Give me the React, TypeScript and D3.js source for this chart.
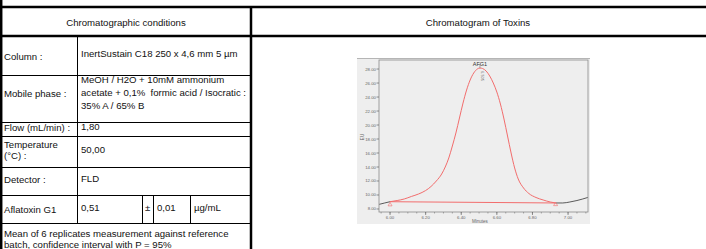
import * as d3 from 'd3'

// table content
const headerLeft = 'Chromatographic conditions'
const headerRight = 'Chromatogram of Toxins'
const rowLabels = [['Column :'], ['Mobile phase :'], ['Flow (mL/min) :'], ['Temperature', '(°C) :'], ['Detector :']]
const rowValues = [
  ['InertSustain C18 250 x 4,6 mm 5 µm'],
  ['MeOH / H2O + 10mM ammonium', 'acetate + 0,1%  formic acid / Isocratic :', '35% A / 65% B'],
  ['1,80'],
  ['50,00'],
  ['FLD'],
]
const resultCells = ['Aflatoxin G1', '0,51', '±', '0,01', 'µg/mL']
const footnote = ['Mean of 6 replicates measurement against reference', 'batch, confidence interval with P = 95%']

// chromatogram trace (minutes, EU)
const times = [5.94, 5.97, 6.0, 6.04, 6.08, 6.12, 6.16, 6.2, 6.23, 6.26, 6.29, 6.31, 6.33, 6.35, 6.37, 6.39, 6.41, 6.43, 6.45, 6.47, 6.49, 6.505, 6.52, 6.54, 6.56, 6.58, 6.6, 6.62, 6.64, 6.66, 6.68, 6.7, 6.72, 6.75, 6.78, 6.82, 6.86, 6.9, 6.93, 6.97, 7.01, 7.05, 7.11]
const signal = [8.67, 8.86, 9.04, 9.21, 9.43, 9.79, 10.14, 10.64, 11.21, 12.0, 13.0, 14.0, 15.29, 17.0, 18.86, 21.0, 23.14, 25.0, 26.43, 27.43, 28.0, 28.14, 28.07, 27.71, 27.0, 26.0, 24.71, 23.0, 20.86, 18.43, 16.0, 13.86, 12.29, 11.0, 10.21, 9.64, 9.29, 9.0, 8.86, 8.86, 9.0, 9.21, 9.64]
const peakName = 'AFG1'
const peakRT = '6.505'
const peakStart = 6.0
const peakEnd = 6.93
const yTicks = [8, 10, 12, 14, 16, 18, 20, 22, 24, 26, 28]
const xTicks = [6.0, 6.2, 6.4, 6.6, 6.8, 7.0]
const xMinor = d3.range(5.95, 7.11, 0.05)

const W = 706
const H = 249
const font = 'Liberation Sans, Arial, sans-serif'

const Chromatogram = () => {
  const x = d3.scaleLinear().domain([5.938, 7.112]).range([379, 588])
  const y = d3.scaleLinear().domain([7.57, 29.29]).range([212, 60])
  const pts = times.map((t, i) => [t, signal[i]] as [number, number])
  const line = d3.line<[number, number]>().x(d => x(d[0])).y(d => y(d[1])).curve(d3.curveMonotoneX)
  const inPeak = pts.filter(d => d[0] >= peakStart - 1e-9 && d[0] <= peakEnd + 1e-9)
  const before = pts.filter(d => d[0] <= peakStart + 1e-9)
  const after = pts.filter(d => d[0] >= peakEnd - 1e-9)
  const sIdx = times.indexOf(peakStart)
  const eIdx = times.indexOf(peakEnd)
  const red = '#f26d6d'
  const tri = d3.symbol().type(d3.symbolTriangle).size(7)()
  const apexX = x(6.505)
  const apexY = y(28.14)
  return (
    <g fontFamily={font}>
      <rect x={357} y={58} width={233} height={166} fill="#eeeeee" />
      <line x1={357} x2={590} y1={58.5} y2={58.5} stroke="#b5b5b5" />
      <rect x={379} y={60} width={209} height={152} fill="none" stroke="#8a8a8a" strokeWidth={0.8} />
      {yTicks.map(v => (
        <g key={v}>
          <line x1={376.5} x2={379} y1={y(v)} y2={y(v)} stroke="#666" strokeWidth={0.7} />
          <text x={376} y={y(v) + 1.5} fontSize={4.3} textAnchor="end" fill="#666">{v.toFixed(2)}</text>
        </g>
      ))}
      <text transform={`translate(363.5,137) rotate(-90)`} fontSize={4.5} textAnchor="middle" fill="#666">EU</text>
      {xMinor.map(v => (
        <line key={v} x1={x(v)} x2={x(v)} y1={212} y2={213.5} stroke="#777" strokeWidth={0.6} />
      ))}
      {xTicks.map(v => (
        <g key={v}>
          <line x1={x(v)} x2={x(v)} y1={212} y2={215} stroke="#666" strokeWidth={0.7} />
          <text x={x(v)} y={219} fontSize={4.3} textAnchor="middle" fill="#666">{v.toFixed(2)}</text>
        </g>
      ))}
      <text x={480} y={223} fontSize={4.5} textAnchor="middle" fill="#666">Minutes</text>
      <path d={line(before) || ''} fill="none" stroke="#333" strokeWidth={0.8} />
      <path d={line(after) || ''} fill="none" stroke="#333" strokeWidth={0.8} />
      <path d={line(inPeak) || ''} fill="none" stroke={red} strokeWidth={1} />
      <line x1={x(peakStart)} y1={y(signal[sIdx])} x2={x(peakEnd)} y2={y(signal[eIdx])} stroke={red} strokeWidth={1} />
      <path d={tri} transform={`translate(${x(peakStart)},${y(signal[sIdx]) + 3})`} fill="none" stroke={red} strokeWidth={0.6} />
      <path d={tri} transform={`translate(${x(peakEnd)},${y(signal[eIdx]) + 1.5})`} fill="none" stroke={red} strokeWidth={0.6} />
      <line x1={apexX} x2={apexX} y1={apexY - 4} y2={apexY} stroke="#666" strokeWidth={0.5} />
      <text x={apexX} y={apexY - 2} fontSize={5.5} textAnchor="middle" fill="#333">{peakName}</text>
      <text transform={`translate(${apexX + 1.5},${apexY + 3}) rotate(90)`} fontSize={4} fill="#777">{peakRT}</text>
    </g>
  )
}

export default function App() {
  const rowTops = [36, 75, 122, 136, 167, 195, 223]
  const labelBase = [[60], [97], [131], [147.5, 158.5], [183]]
  const valueBase = [[57], [83, 96, 109], [130], [153], [182]]
  const resultX = [4, 81, 145, 157, 194]
  const resultBase = [213, 211, 211, 211, 211]
  const fs = 9.6
  const thick = 2.5
  return (
    <svg width={W} height={H} style={{ position: 'absolute', left: 0, top: 0, background: '#fff' }}>
      <g fontFamily={font} fontSize={fs} fill="#111">
        {/* thin row separators */}
        {rowTops.slice(1).map(t => (
          <line key={t} x1={1} x2={251} y1={t + 0.5} y2={t + 0.5} stroke="#000" strokeWidth={1} />
        ))}
        <line x1={77.5} x2={77.5} y1={36} y2={223} stroke="#000" />
        <line x1={142.5} x2={142.5} y1={195} y2={223} stroke="#000" />
        <line x1={153.5} x2={153.5} y1={195} y2={223} stroke="#000" />
        <line x1={190.5} x2={190.5} y1={195} y2={223} stroke="#000" />
        {/* thick borders */}
        <line x1={0} x2={W} y1={7} y2={7} stroke="#000" strokeWidth={thick} />
        <line x1={0} x2={W} y1={36} y2={36} stroke="#000" strokeWidth={thick} />
        <line x1={1.2} x2={1.2} y1={0} y2={H} stroke="#000" strokeWidth={thick} />
        <line x1={251} x2={251} y1={6} y2={H} stroke="#000" strokeWidth={thick} />
        <text x={126} y={25.5} textAnchor="middle">{headerLeft}</text>
        <text x={478} y={25.5} textAnchor="middle">{headerRight}</text>
        {rowLabels.map((ls, i) => ls.map((l, j) => (
          <text key={`l${i}${j}`} x={4} y={labelBase[i][j]}>{l}</text>
        )))}
        {rowValues.map((vs, i) => vs.map((v, j) => (
          <text key={`v${i}${j}`} x={81} y={valueBase[i][j]} style={{ whiteSpace: 'pre' }}>{v}</text>
        )))}
        {resultCells.map((c, i) => (
          <text key={`r${i}`} x={resultX[i]} y={resultBase[i]}>{c}</text>
        ))}
        {footnote.map((f, i) => (
          <text key={`f${i}`} x={4} y={236.5 + i * 11.5}>{f}</text>
        ))}
      </g>
      <Chromatogram />
    </svg>
  )
}
